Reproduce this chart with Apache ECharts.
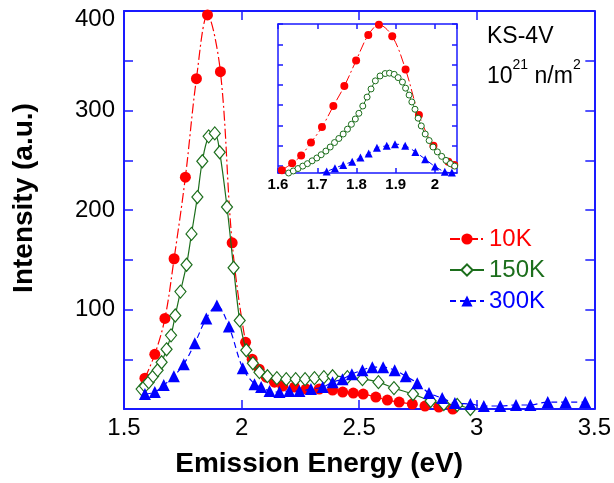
<!DOCTYPE html>
<html><head><meta charset="utf-8">
<script src="https://cdn.jsdelivr.net/npm/echarts@6/dist/echarts.min.js"></script>
<style>html,body{margin:0;padding:0;background:#fff}#c{width:614px;height:483px}</style>
</head><body><div id="c"></div>
<script>
// ---- main plot data (Emission Energy eV, Intensity a.u.) ----
const x10K = [1.589,1.631,1.674,1.713,1.761,1.808,1.855,1.910,1.960,2.017,2.045,2.075,2.105,2.140,2.175,2.225,2.274,2.330,2.387,2.430,2.475,2.517,2.571,2.620,2.670,2.726,2.780,2.839,2.898];
const y10K = [31,55,91,151,233,332,396,339,167,67,50,40,32,27,23,22,20,20,19,17,16,15,12,9,7,5,3,2,0];
const x150K = [1.575,1.589,1.605,1.624,1.643,1.660,1.681,1.700,1.718,1.740,1.766,1.787,1.812,1.833,1.860,1.886,1.907,1.938,1.966,1.992,2.020,2.048,2.076,2.110,2.150,2.190,2.230,2.270,2.310,2.350,2.387,2.450,2.514,2.582,2.648,2.729,2.804,2.860,2.917,2.973];
const y150K = [20,23,27,33,39,47,60,74,94,118,145,176,213,249,274,277,258,203,142,89,59,46,37,33,31,30,30,30,31,32,33,32,30,27,21,15,8,5,4,0];
const x300K = [1.589,1.631,1.669,1.712,1.754,1.801,1.850,1.895,1.946,2.005,2.055,2.083,2.119,2.161,2.203,2.246,2.295,2.345,2.387,2.429,2.469,2.514,2.556,2.602,2.651,2.698,2.747,2.797,2.853,2.907,2.973,3.030,3.100,3.167,3.228,3.302,3.378,3.461];
const y300K = [15,17,24,33,45,66,91,104,83,41,25,22,18,17,18,18,20,22,27,30,35,39,42,42,39,33,26,16,11,6,5,3,3,4,4,7,7,7];

// ---- inset data ----
const ix10K = [1.610,1.636,1.659,1.684,1.712,1.741,1.769,1.799,1.830,1.857,1.891,1.925,1.959,1.996,2.034,2.049];
const iy10K = [40,57,76,108,146,198,247,310,373,398,370,288,176,100,61,53];
const ix150K = [1.627,1.639,1.651,1.663,1.675,1.687,1.699,1.710,1.722,1.733,1.744,1.755,1.766,1.777,1.787,1.797,1.806,1.816,1.827,1.837,1.848,1.860,1.873,1.884,1.896,1.906,1.917,1.925,1.934,1.941,1.949,1.957,1.965,1.975,1.985,1.995,2.006,2.017,2.028,2.039,2.050];
const iy150K = [33,38,44,50,56,63,70,78,87,97,108,118,129,141,153,166,180,198,220,240,260,272,278,279,276,268,257,242,225,208,190,168,149,129,113,97,85,74,64,56,50];
const ix300K = [1.705,1.724,1.745,1.766,1.789,1.810,1.831,1.852,1.877,1.898,1.924,1.950,1.975,2.000,2.025,2.043];
const iy300K = [32,37,45,53,61,71,81,95,100,104,100,85,67,49,36,34];

// ---- labels ----
const seriesNames = ['10K','150K','300K'];
const seriesColors = ['#ff0000','#1c6e1c','#0000ff'];
const xTitle = 'Emission Energy (eV)';
const yTitle = 'Intensity (a.u.)';
const sampleLabel = 'KS-4V';

const pairs = (xs, ys) => xs.map((x, i) => [x, ys[i]]);
const AX = '#1a1aff';
const FONT = 'Liberation Sans, Arial, sans-serif';
const trim = v => String(Math.round(v * 10) / 10);

const chart = echarts.init(document.getElementById('c'), null, {renderer: 'canvas'});
const mirrorTick = (len) => ({show: true, inside: true, length: len, lineStyle: {color: AX, width: 1.5}});

chart.setOption({
  animation: false,
  backgroundColor: '#fff',
  grid: [
    {left: 124, top: 11, right: 17, bottom: 73, show: false},
    {left: 278, top: 24, width: 179, height: 149, show: false}
  ],
  legend: {
    orient: 'vertical', left: 444, top: 222, itemWidth: 34, itemHeight: 14, itemGap: 7,
    textStyle: {fontSize: 24, fontFamily: FONT},
    data: seriesNames.map((n, i) => ({name: n, textStyle: {color: seriesColors[i], fontSize: 24, fontFamily: FONT}}))
  },
  xAxis: [
    {gridIndex: 0, type: 'value', position: 'bottom', min: 1.5, max: 3.5, interval: 0.5,
     axisLine: {onZero: false, lineStyle: {color: AX, width: 2}}, axisTick: mirrorTick(9), splitLine: {show: false},
     axisLabel: {color: '#000', fontSize: 24, fontFamily: FONT, margin: 7, formatter: trim},
     name: xTitle, nameLocation: 'middle', nameGap: 41,
     nameTextStyle: {fontSize: 28, fontWeight: 'bold', color: '#000', fontFamily: FONT, padding: [0, 80, 0, 0]}},
    {gridIndex: 0, type: 'value', position: 'top', min: 1.5, max: 3.5, interval: 0.5,
     axisLine: {onZero: false, lineStyle: {color: AX, width: 2}}, axisTick: mirrorTick(9), splitLine: {show: false},
     axisLabel: {show: false}},
    {gridIndex: 1, type: 'value', position: 'bottom', min: 1.6, max: 2.056, interval: 0.1,
     axisLine: {onZero: false, lineStyle: {color: AX, width: 1.5}}, axisTick: mirrorTick(5), splitLine: {show: false},
     axisLabel: {color: '#000', fontSize: 15, fontWeight: 'bold', fontFamily: FONT, margin: 4, showMaxLabel: false, formatter: trim}},
    {gridIndex: 1, type: 'value', position: 'top', min: 1.6, max: 2.056, interval: 0.1,
     axisLine: {onZero: false, lineStyle: {color: AX, width: 1.5}}, axisTick: mirrorTick(5), splitLine: {show: false},
     axisLabel: {show: false}}
  ],
  yAxis: [
    {gridIndex: 0, type: 'value', position: 'left', min: 0, max: 400, interval: 100,
     axisLine: {onZero: false, lineStyle: {color: AX, width: 2}}, axisTick: mirrorTick(9),
     minorTick: {show: true, splitNumber: 2, length: 9, lineStyle: {color: AX, width: 1.5}},
     splitLine: {show: false}, minorSplitLine: {show: false},
     axisLabel: {color: '#000', fontSize: 24, fontFamily: FONT, margin: 9, showMinLabel: false,
       formatter: v => v === 400 ? '{t|400}' : String(v),
       rich: {t: {fontSize: 24, fontFamily: FONT, color: '#000', padding: [16, 0, 0, 0]}}},
     name: yTitle, nameLocation: 'middle', nameGap: 86, nameRotate: 90,
     nameTextStyle: {fontSize: 28, fontWeight: 'bold', color: '#000', fontFamily: FONT, padding: [0, 0, 0, 24]}},
    {gridIndex: 0, type: 'value', position: 'right', min: 0, max: 400, interval: 50,
     axisLine: {onZero: false, lineStyle: {color: AX, width: 2}}, axisTick: mirrorTick(9), splitLine: {show: false},
     axisLabel: {show: false}},
    {gridIndex: 1, type: 'value', position: 'left', min: 33, max: 400, show: false},
    {gridIndex: 1, type: 'value', position: 'left', inverse: true, min: 0, max: 367, interval: 50,
     axisLine: {onZero: false, lineStyle: {color: AX, width: 1.5}}, axisTick: mirrorTick(5), splitLine: {show: false},
     axisLabel: {show: false}},
    {gridIndex: 1, type: 'value', position: 'right', inverse: true, min: 0, max: 367, interval: 50,
     axisLine: {onZero: false, lineStyle: {color: AX, width: 1.5}}, axisTick: mirrorTick(5), splitLine: {show: false},
     axisLabel: {show: false}}
  ],
  graphic: [
    {type: 'text', left: 487, top: 25, style: {text: sampleLabel, font: '23px ' + FONT, fill: '#000'}},
    {type: 'text', left: 487, top: 58, style: {
      text: '{a|10}{s|21}{a| n/m}{s|2}', fill: '#000',
      rich: {a: {fontSize: 23, fontFamily: FONT, lineHeight: 30, verticalAlign: 'bottom', fill: '#000', color: '#000'},
             s: {fontSize: 14, fontFamily: FONT, lineHeight: 14, verticalAlign: 'top', fill: '#000', color: '#000'}}}}
  ],
  series: [
    {name: seriesNames[0], type: 'line', xAxisIndex: 0, yAxisIndex: 0, data: pairs(x10K, y10K), smooth: 0.35,
     symbol: 'circle', symbolSize: 11, itemStyle: {color: seriesColors[0]},
     lineStyle: {color: seriesColors[0], width: 1.2, type: [10, 3, 2, 3]}, z: 2},
    {name: seriesNames[1], type: 'line', xAxisIndex: 0, yAxisIndex: 0, data: pairs(x150K, y150K), smooth: 0.35,
     symbol: 'diamond', symbolSize: [11, 13], itemStyle: {color: '#fff', borderColor: seriesColors[1], borderWidth: 1.2},
     lineStyle: {color: seriesColors[1], width: 1.2}, z: 3},
    {name: seriesNames[2], type: 'line', xAxisIndex: 0, yAxisIndex: 0, data: pairs(x300K, y300K), smooth: 0.35,
     symbol: 'triangle', symbolSize: 12, itemStyle: {color: seriesColors[2]},
     lineStyle: {color: seriesColors[2], width: 1.2, type: [6, 4]}, z: 4},
    {name: seriesNames[0], type: 'line', xAxisIndex: 2, yAxisIndex: 2, data: pairs(ix10K, iy10K), smooth: 0.35,
     symbol: 'circle', symbolSize: 8, itemStyle: {color: seriesColors[0]},
     lineStyle: {color: seriesColors[0], width: 1, type: [10, 3, 2, 3]}, z: 2},
    {name: seriesNames[1], type: 'line', xAxisIndex: 2, yAxisIndex: 2, data: pairs(ix150K, iy150K), smooth: 0.35,
     symbol: 'circle', symbolSize: 6, itemStyle: {color: '#fff', borderColor: seriesColors[1], borderWidth: 1},
     lineStyle: {color: seriesColors[1], width: 1}, z: 3},
    {name: seriesNames[2], type: 'line', xAxisIndex: 2, yAxisIndex: 2, data: pairs(ix300K, iy300K), smooth: 0.35,
     symbol: 'triangle', symbolSize: 8, itemStyle: {color: seriesColors[2]},
     lineStyle: {color: seriesColors[2], width: 1, type: [6, 4]}, z: 4}
  ]
});
</script>
</body></html>
